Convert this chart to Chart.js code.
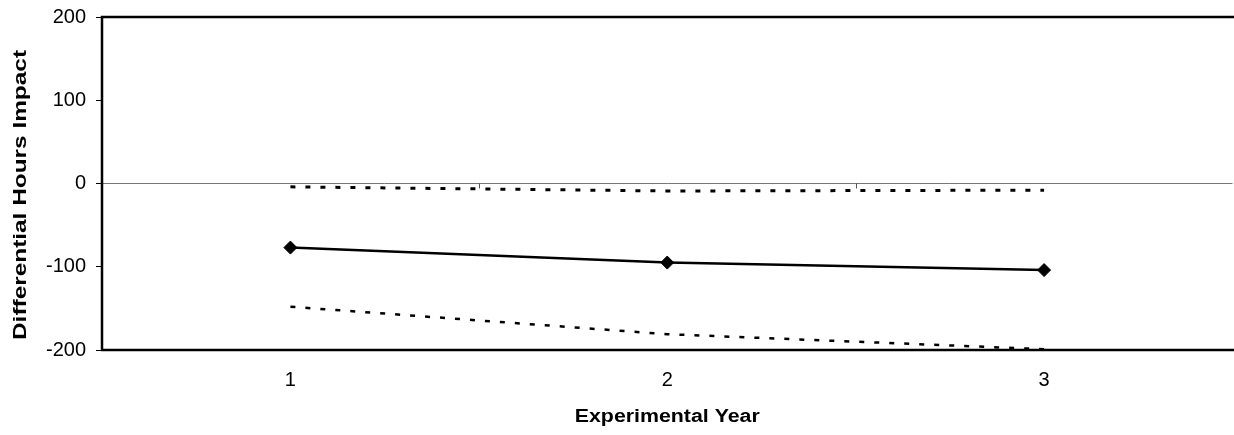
<!DOCTYPE html>
<html>
<head>
<meta charset="utf-8">
<script src="https://cdn.jsdelivr.net/npm/chart.js@4/dist/chart.umd.min.js"></script>
<style>
  html, body { margin: 0; padding: 0; background: #fff; overflow: hidden; }
  #wrap { width: 1234px; height: 435px; overflow: hidden; }
  canvas { display: block; }
</style>
</head>
<body>
<div id="wrap"><canvas id="c" width="1240" height="435"></canvas></div>
<script>
// Experimental years on the horizontal axis
const categories = ['1', '2', '3'];
// Point estimate of the differential hours impact
const estimate = [-77, -95, -104];
// Upper and lower bounds around the estimate
const upperBound = [-4, -9, -8];
const lowerBound = [-148, -181, -199];
// Value axis range and step
const yMin = -200;
const yMax = 200;
const yStep = 100;

const xTitle = 'Experimental Year';
const yTitle = 'Differential Hours Impact';

const FONT = '"Liberation Sans", Arial, Helvetica, sans-serif';

// Draws the frame, the tick marks along the zero line and the stretched axis titles
const framePlugin = {
  id: 'frame',
  afterDraw(chart) {
    const { ctx, chartArea: a, scales } = chart;
    const x = scales.x, y = scales.y;
    ctx.save();

    // category boundary tick marks hanging below the zero line
    const y0 = y.getPixelForValue(0);
    ctx.strokeStyle = '#555';
    ctx.lineWidth = 1;
    ctx.beginPath();
    for (let i = 0; i < categories.length - 1; i++) {
      const bx = Math.round((x.getPixelForValue(i) + x.getPixelForValue(i + 1)) / 2) + 0.5;
      ctx.moveTo(bx, y0);
      ctx.lineTo(bx, y0 + 5);
    }
    ctx.stroke();

    // heavy frame: left, top and bottom edges
    ctx.strokeStyle = '#000';
    ctx.lineWidth = 2.5;
    ctx.beginPath();
    ctx.moveTo(a.right + 2, a.top);
    ctx.lineTo(a.left, a.top);
    ctx.lineTo(a.left, a.bottom);
    ctx.lineTo(a.right + 2, a.bottom);
    ctx.stroke();

    // axis titles
    ctx.fillStyle = '#000';
    ctx.font = 'bold 18px ' + FONT;
    ctx.textAlign = 'center';
    ctx.textBaseline = 'alphabetic';

    const xw = ctx.measureText(xTitle).width;
    const xs = 185 / xw;
    ctx.save();
    ctx.translate((a.left + a.right) / 2, 422);
    ctx.scale(xs, 1);
    ctx.fillText(xTitle, 0, 0);
    ctx.restore();

    const yw = ctx.measureText(yTitle).width;
    const ys = 290 / yw;
    ctx.save();
    ctx.translate(26, 195);
    ctx.rotate(-Math.PI / 2);
    ctx.scale(ys, 1);
    ctx.fillText(yTitle, 0, 0);
    ctx.restore();

    ctx.restore();
  }
};

new Chart(document.getElementById('c'), {
  type: 'line',
  data: {
    labels: categories,
    datasets: [
      {
        label: 'Upper bound',
        data: upperBound,
        borderColor: '#000',
        borderWidth: 3,
        borderDash: [5, 10],
        pointRadius: 0,
        fill: false,
        tension: 0
      },
      {
        label: 'Lower bound',
        data: lowerBound,
        borderColor: '#000',
        borderWidth: 2.5,
        borderDash: [5, 10],
        pointRadius: 0,
        fill: false,
        tension: 0
      },
      {
        label: 'Impact',
        data: estimate,
        borderColor: '#000',
        borderWidth: 2.5,
        pointStyle: 'rectRot',
        pointRadius: 6.5,
        pointBackgroundColor: '#000',
        pointBorderColor: '#000',
        pointBorderWidth: 1,
        fill: false,
        tension: 0
      }
    ]
  },
  options: {
    responsive: false,
    animation: false,
    devicePixelRatio: 1,
    layout: { padding: { left: 42, top: 17, right: 5, bottom: 25 } },
    plugins: {
      legend: { display: false },
      tooltip: { enabled: false }
    },
    scales: {
      x: {
        type: 'category',
        offset: true,
        grid: { display: false, drawTicks: false },
        border: { display: false },
        ticks: {
          color: '#000',
          padding: 18,
          font: { family: FONT, size: 20 },
          maxRotation: 0
        },
        afterFit(s) { s.height = 60; s.paddingLeft = 0; s.paddingRight = 0; }
      },
      y: {
        min: yMin,
        max: yMax,
        border: { display: false },
        grid: {
          drawTicks: true,
          tickLength: 6,
          tickWidth: 1,
          tickColor: '#000',
          lineWidth: 1,
          color: (c) => (c.tick && c.tick.value === 0 ? '#777' : 'rgba(0,0,0,0)')
        },
        ticks: {
          stepSize: yStep,
          color: '#000',
          padding: 10,
          font: { family: FONT, size: 20 }
        },
        afterFit(s) { s.width = 60; s.paddingTop = 0; s.paddingBottom = 0; }
      }
    }
  },
  plugins: [framePlugin]
});
</script>
</body>
</html>
